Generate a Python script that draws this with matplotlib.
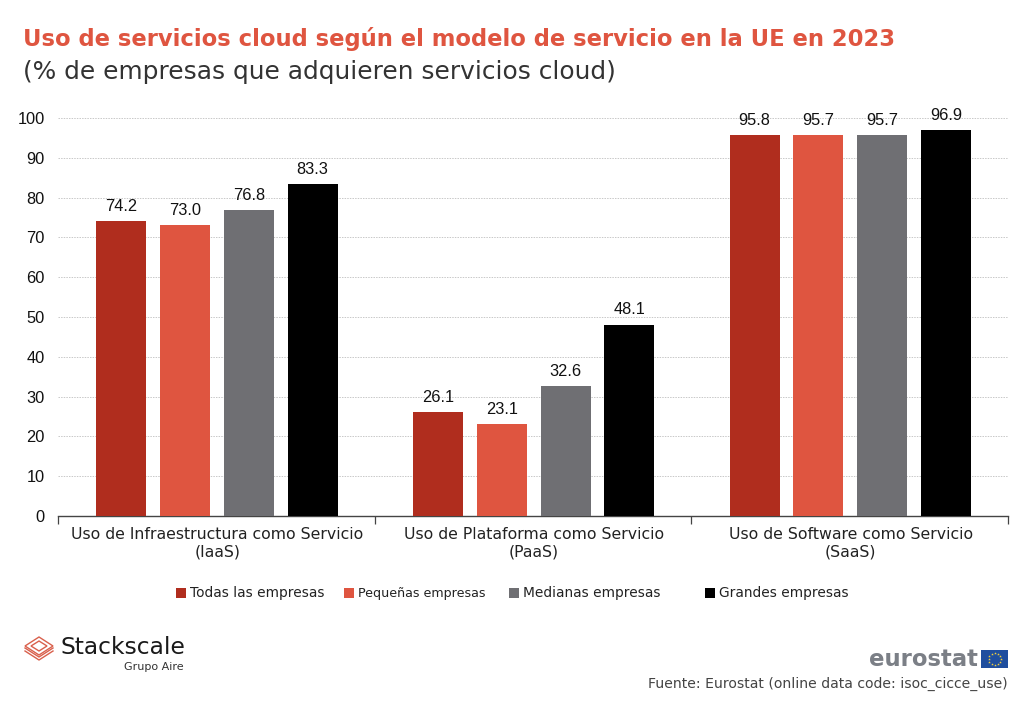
import matplotlib
matplotlib.use("Agg")
import matplotlib.pyplot as plt
from matplotlib.patches import Rectangle, Polygon
import numpy as np

W, H = 1024, 705
categories = ["Uso de Infraestructura como Servicio\n(IaaS)",
              "Uso de Plataforma como Servicio\n(PaaS)",
              "Uso de Software como Servicio\n(SaaS)"]
series_names = ["Todas las empresas", "Pequeñas empresas", "Medianas empresas", "Grandes empresas"]
todas = [74.2, 26.1, 95.8]
pequenas = [73.0, 23.1, 95.7]
medianas = [76.8, 32.6, 95.7]
grandes = [83.3, 48.1, 96.9]
colors = ["#B02D1E", "#DF5540", "#6F6F73", "#000000"]
yticks = list(range(0, 101, 10))

fig = plt.figure(figsize=(W/100, H/100), dpi=100, facecolor="white")
ax = fig.add_axes([58/W, 1-516/H, 950/W, 398/H])
x = np.arange(3)
for i, (vals, c) in enumerate(zip([todas, pequenas, medianas, grandes], colors)):
    bars = ax.bar(x + (i-1.5)*0.2015 + 0.002, vals, width=0.158, color=c, zorder=3)
    for b, v in zip(bars, vals):
        ax.text(b.get_x()+b.get_width()/2, v+1.8, f"{v:.1f}", ha="center", va="bottom",
                fontsize=11.8, family="Liberation Sans", color="#111111")
ax.set_xlim(-0.5, 2.5)
ax.set_ylim(0, 100)
ax.set_yticks(yticks)
ax.tick_params(axis="y", length=0, pad=9.5, labelsize=11.8, labelcolor="#111111")
for t in ax.get_yticklabels():
    t.set_family("Liberation Sans")
ax.yaxis.grid(True, color="#C8C8C8", linestyle=(0, (1.5, 1.2)), linewidth=0.7, zorder=0)
ax.set_axisbelow(True)
ax.set_xticks([-0.5, 0.5, 1.5, 2.5])
ax.set_xticklabels([])
ax.tick_params(axis="x", length=6, width=0.9, color="#444444", direction="out")
for s in ["top", "left", "right"]:
    ax.spines[s].set_visible(False)
ax.spines["bottom"].set_color("#444444")
ax.spines["bottom"].set_linewidth(1.0)
for xi, c in zip(x, categories):
    ax.text(xi + 0.003, -0.027, c, transform=ax.get_xaxis_transform(), ha="center", va="top",
            fontsize=11.3, color="#222222", linespacing=1.27)

def ftext(px, py, s, **kw):
    fig.text(px/W, 1-py/H, s, **kw)

ftext(23, 39, "Uso de servicios cloud según el modelo de servicio en la UE en 2023",
      fontsize=16.3, fontweight="bold", color="#DF5540", va="center")
ftext(23, 72, "(% de empresas que adquieren servicios cloud)",
      fontsize=17.9, color="#333333", va="center")

# legend
legend_x = [176, 344, 509, 705]
legend_sizes = [9.95, 9.1, 9.9, 9.9]
for lx, name, c, fs in zip(legend_x, series_names, colors, legend_sizes):
    fig.add_artist(Rectangle((lx/W, 1-598/H), 10/W, 10/H, transform=fig.transFigure, color=c, lw=0))
    ftext(lx+14, 593, name, fontsize=fs, color="#222222", va="center")

# Stackscale logo: stacked chevrons under a nested diamond
logo = "#D9604C"
for pts in ([(25, 646), (39, 637), (53, 646), (39, 655)],
            [(31, 646), (39, 641), (47, 646), (39, 651)]):
    fig.add_artist(Polygon([(a/W, 1-b/H) for a, b in pts], closed=True, fill=False,
                           edgecolor=logo, lw=1.0, transform=fig.transFigure))
for dy in (3, 6):
    xs = np.array([25, 39, 53])
    ys = np.array([646, 655, 646]) + dy - 1
    fig.add_artist(plt.Line2D(xs/W, 1-ys/H, color=logo, lw=1.0, transform=fig.transFigure))
ftext(61, 647, "Stackscale", fontsize=16.8, color="#1A1A1A", va="center")
ftext(184, 667, "Grupo Aire", fontsize=8, color="#333333", va="center", ha="right")

# Eurostat
ftext(978, 660, "eurostat", fontsize=16.4, fontweight="bold", color="#7B7F86", va="center", ha="right")
fig.add_artist(Rectangle((981/W, 1-668/H), 27/W, 18/H, transform=fig.transFigure, color="#1F4E9E", lw=0))
ang = np.linspace(0, 2*np.pi, 12, endpoint=False)
fig.add_artist(plt.Line2D((994.5+6*np.cos(ang))/W, 1-(659+6*np.sin(ang))/H,
                          transform=fig.transFigure, ls="none", marker="*", ms=2, color="#F5D33A", mew=0))
ftext(1008, 684, "Fuente: Eurostat (online data code: isoc_cicce_use)", fontsize=10.05,
      color="#444444", va="center", ha="right")

fig.savefig("out.png", dpi=100, facecolor="white")
